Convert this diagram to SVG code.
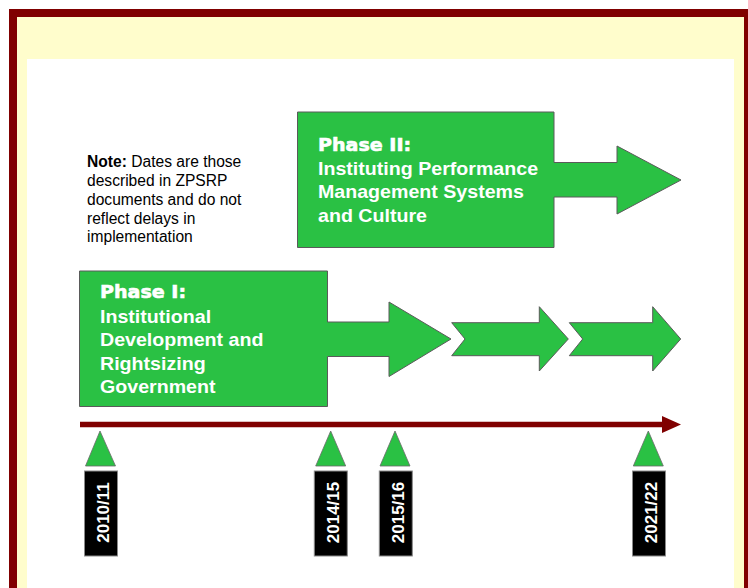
<svg xmlns="http://www.w3.org/2000/svg" width="748" height="588" viewBox="0 0 748 588">
<style>
.shape{fill:#2AC144;stroke:#5a5a5a;stroke-width:1}
.tri{fill:#2AC144;stroke:#6a6a6a;stroke-width:0.8}
.lbl{fill:#000;stroke:#8a8a8a;stroke-width:1}
.head{font-family:"DejaVu Sans",sans-serif;font-weight:bold;font-size:17.5px;fill:#fff;stroke:#fff;stroke-width:0.6}
.body{font-family:"Liberation Sans",Arial,sans-serif;font-weight:bold;font-size:18px;fill:#fff}
.note{font-family:"Liberation Sans",Arial,sans-serif;font-size:15.6px;fill:#000}
.date{font-family:"Liberation Sans",Arial,sans-serif;font-weight:bold;font-size:17px;fill:#fff;text-anchor:middle}
</style>
<rect x="0" y="0" width="748" height="588" fill="#fff"/>
<rect x="9" y="9" width="745" height="590" fill="#800000"/>
<rect x="17" y="17" width="727" height="580" fill="#FFFDCC"/>
<rect x="27" y="59" width="707" height="540" fill="#fff"/>

<g id="note">
<text class="note" x="87" y="166.5"><tspan font-weight="bold">Note:</tspan> Dates are those</text>
<text class="note" x="87" y="185.5">described in ZPSRP</text>
<text class="note" x="87" y="204.5">documents and do not</text>
<text class="note" x="87" y="223.5">reflect delays in</text>
<text class="note" x="87" y="242">implementation</text>
</g>

<g id="phase2">
<polygon class="shape" points="297.5,112 554,112 554,162.5 617,162.5 617,146 681,180 617,214 617,197 554,197 554,247.5 297.5,247.5"/>
<g transform="translate(318,0) scale(1.09,1)">
<text class="head" x="0" y="151.5">Phase II:</text>
<text class="body" x="0" y="175.5">Instituting Performance</text>
<text class="body" x="0" y="198.5">Management Systems</text>
<text class="body" x="0" y="222">and Culture</text>
</g>
</g>

<g id="phase1">
<polygon class="shape" points="79.5,271 327.5,271 327.5,322 389,322 389,302 451,339 389,376.5 389,356.5 327.5,356.5 327.5,406.5 79.5,406.5"/>
<g transform="translate(100,0) scale(1.09,1)">
<text class="head" x="0" y="298.5">Phase I:</text>
<text class="body" x="0" y="323">Institutional</text>
<text class="body" x="0" y="346.5">Development and</text>
<text class="body" x="0" y="370">Rightsizing</text>
<text class="body" x="0" y="393">Government</text>
</g>
</g>

<g id="arrow2">
<polygon class="shape" points="451.7,322.7 539.3,322.7 539.3,306.7 568.3,339 539.3,371 539.3,355.7 451.7,355.7 465,339"/>
</g>
<g id="arrow3">
<polygon class="shape" points="569.3,322.7 652.7,322.7 652.7,306.7 680.7,339 652.7,371 652.7,355.7 569.3,355.7 582.7,339"/>
</g>

<g id="connectors">
<line x1="80" y1="424.5" x2="664" y2="424.5" stroke="#800000" stroke-width="5.5"/>
<polygon points="662,416 681,424.5 662,433" fill="#800000"/>
</g>

<g id="m2010">
<polygon class="tri" points="100,431 85.5,466 115.5,466"/>
<rect class="lbl" x="84.5" y="471" width="33" height="85"/>
<text class="date" transform="translate(109,512.5) rotate(-90)">2010/11</text>
</g>
<g id="m2014">
<polygon class="tri" points="330.7,431 315.7,466 345.7,466"/>
<rect class="lbl" x="314.3" y="471" width="33" height="85"/>
<text class="date" transform="translate(338.8,512.5) rotate(-90)">2014/15</text>
</g>
<g id="m2015">
<polygon class="tri" points="395,431 380,466 410,466"/>
<rect class="lbl" x="379.3" y="471" width="33" height="85"/>
<text class="date" transform="translate(403.8,512.5) rotate(-90)">2015/16</text>
</g>
<g id="m2021">
<polygon class="tri" points="648.3,431 633.3,466 663.3,466"/>
<rect class="lbl" x="632.5" y="471" width="33" height="85"/>
<text class="date" transform="translate(657,512.5) rotate(-90)">2021/22</text>
</g>
</svg>
